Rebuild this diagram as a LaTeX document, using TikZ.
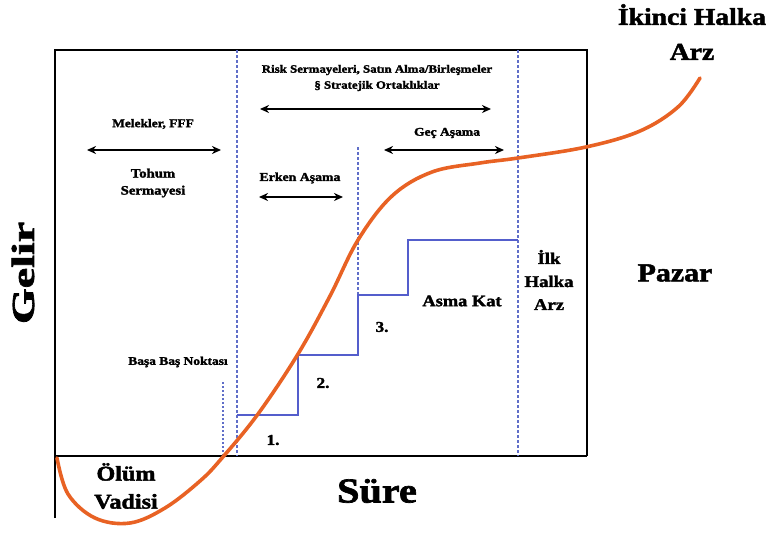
\documentclass[tikz,border=0pt]{standalone}
\usepackage{fontspec}
\setmainfont{Liberation Serif}[BoldFeatures={FakeBold=2,FakeStretch=1.15}]
\usetikzlibrary{arrows.meta}
\definecolor{curveor}{RGB}{232,98,36}
\definecolor{stepblue}{RGB}{84,94,204}
\definecolor{dashblue}{RGB}{96,110,200}
\tikzset{
  lbl/.style={inner sep=0pt, align=center, font=\bfseries},
  framebox/.style={line width=1.8pt, black},
  dblarrow/.style={line width=1.6pt, {Stealth[length=9pt,width=8pt]}-{Stealth[length=9pt,width=8pt]}},
  divider/.style={dashblue, line width=1.4pt, dash pattern=on 3pt off 2pt},
  stepline/.style={stepblue, line width=2pt},
  revcurve/.style={curveor, line width=3.6pt, line cap=round}
}
\begin{document}
\begin{tikzpicture}[x=1pt,y=-1pt]
\useasboundingbox (0,0) rectangle (769,533);
% frame
\coordinate (tl) at (55,50);
\coordinate (tr) at (587,50);
\coordinate (br) at (587,456);
\coordinate (bl) at (55,456);
\coordinate (lb) at (55,518);
\draw[framebox] (lb) -- (tl) -- (tr) -- (br);
\draw[framebox] (bl) -- (br);
% dividers
\coordinate (d1t) at (237,50); \coordinate (d1b) at (237,456);
\coordinate (d2t) at (518,50); \coordinate (d2b) at (518,456);
\coordinate (d3t) at (358,147); \coordinate (d3b) at (358,296);
\draw[divider] (d1t) -- (d1b);
\draw[divider] (d2t) -- (d2b);
\draw[divider] (d3t) -- (d3b);
\coordinate (bet) at (223,382); \coordinate (beb) at (223,456);
\draw[dashblue, line width=1.6pt, dash pattern=on 1.5pt off 2.5pt] (bet) -- (beb);
% steps
\coordinate (s0) at (237,415);
\coordinate (s1) at (298,415);
\coordinate (s2) at (298,355);
\coordinate (s3) at (358,355);
\coordinate (s4) at (358,295);
\coordinate (s5) at (408,295);
\coordinate (s6) at (408,240);
\coordinate (s7) at (518,240);
\draw[stepline] (s0) -- (s1) -- (s2) -- (s3) -- (s4) -- (s5) -- (s6) -- (s7);
% curve
\draw[revcurve] plot[smooth, tension=0.6] coordinates {(57,458) (68,494) (95,518) (130,523) (165,508) (200,481) (222,458) (258,414) (298,354) (330,296) (358,240) (392,196) (432,172) (480,163) (518,158) (586,147) (640,131) (678,107) (700,78)};
% arrows
\coordinate (a1l) at (87,150); \coordinate (a1r) at (221,150);
\draw[dblarrow] (a1l) -- (a1r);
\coordinate (a2l) at (260,109); \coordinate (a2r) at (491,109);
\draw[dblarrow] (a2l) -- (a2r);
\coordinate (a3l) at (384,150); \coordinate (a3r) at (504,150);
\draw[dblarrow] (a3l) -- (a3r);
\coordinate (a4l) at (259,197); \coordinate (a4r) at (343,197);
\draw[dblarrow] (a4l) -- (a4r);
% labels
\node[lbl, font=\bfseries\fontsize{24}{35}\selectfont] (ikinci) at (692,32) {İkinci Halka\\Arz};
\node[lbl, font=\bfseries\fontsize{11.2}{16}\selectfont] (risk) at (377,78) {Risk Sermayeleri, Satın Alma/Birleşmeler\\§ Stratejik Ortaklıklar};
\node[lbl, font=\bfseries\fontsize{11.7}{14}\selectfont] (melek) at (153,124) {Melekler, FFF};
\node[lbl, font=\bfseries\fontsize{12.8}{17}\selectfont] (tohum) at (153,183) {Tohum\\Sermayesi};
\node[lbl, font=\bfseries\fontsize{11.8}{14}\selectfont] (gec) at (447,133) {Geç Aşama};
\node[lbl, font=\bfseries\fontsize{12}{14}\selectfont] (erken) at (300,178) {Erken Aşama};
\node[lbl, font=\bfseries\fontsize{11.7}{14}\selectfont] (basa) at (178,362) {Başa Baş Noktası};
\node[lbl, font=\bfseries\fontsize{15}{17}\selectfont] (n1) at (273,440) {1.};
\node[lbl, font=\bfseries\fontsize{15}{17}\selectfont] (n2) at (323,383) {2.};
\node[lbl, font=\bfseries\fontsize{15}{17}\selectfont] (n3) at (382,327) {3.};
\node[lbl, font=\bfseries\fontsize{16}{17}\selectfont] (asma) at (462,301) {Asma Kat};
\node[lbl, font=\bfseries\fontsize{16.3}{23}\selectfont] (ilk) at (549,280) {İlk\\Halka\\Arz};
\node[lbl, font=\bfseries\fontsize{26}{28}\selectfont] (pazar) at (675,273) {Pazar};
\node[lbl, font=\bfseries\fontsize{32}{34}\selectfont, rotate=90] (gelir) at (23,273) {\scalebox{1.25}[1]{Gelir}};
\node[lbl, font=\bfseries\fontsize{35}{36}\selectfont] (sure) at (377,491) {Süre};
\node[lbl, font=\bfseries\fontsize{21}{28}\selectfont] (olum) at (126,486) {Ölüm\\Vadisi};
\end{tikzpicture}
\end{document}
